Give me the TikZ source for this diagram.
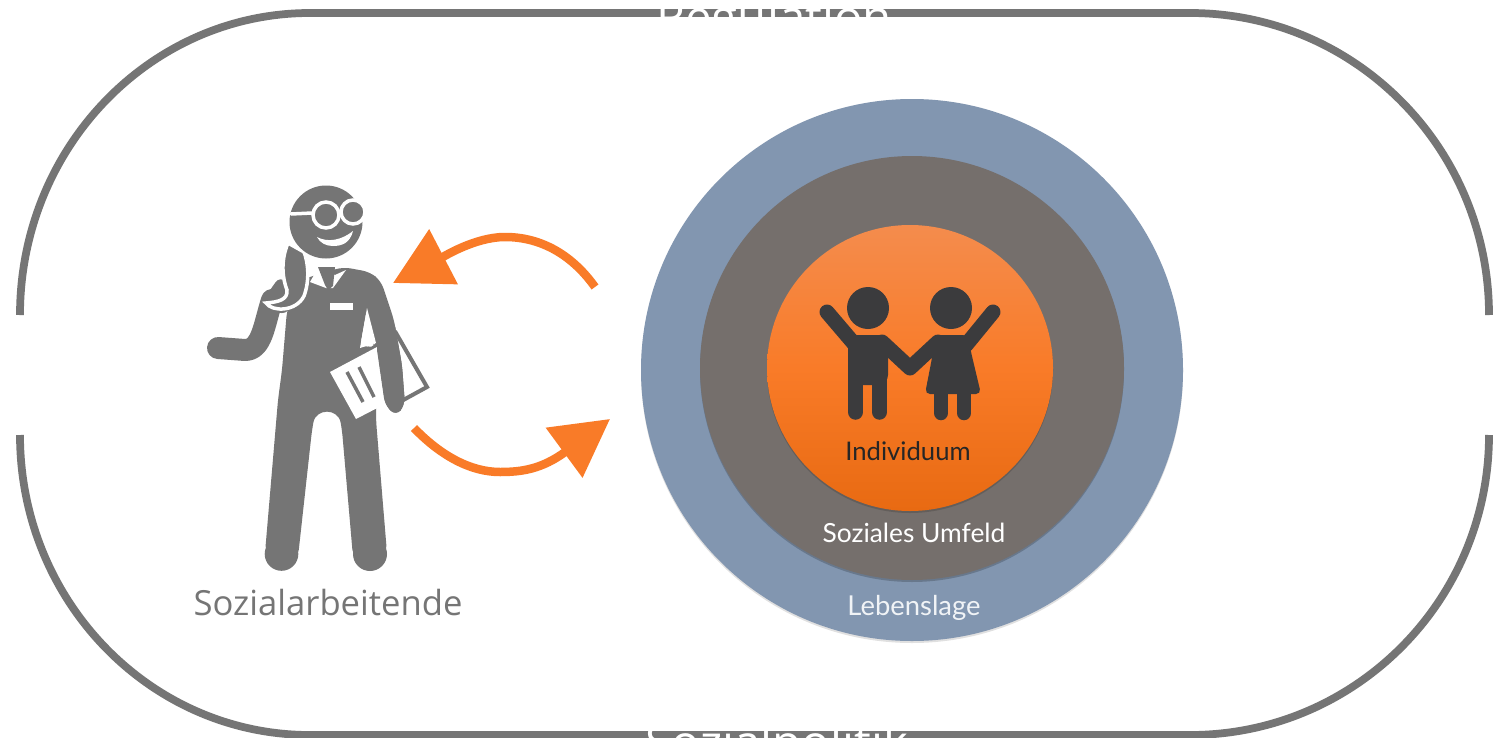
\documentclass[tikz,border=0pt]{standalone}
\usepackage{fontspec}
\setmainfont{Lato}
\newfontfamily\labelfont{Open Sans}
\usetikzlibrary{arrows.meta}
\definecolor{figgray}{HTML}{757575}
\definecolor{flowor}{HTML}{F97B28}
\definecolor{lageblue}{HTML}{8296B0}
\definecolor{umfeldgray}{HTML}{756F6C}
\definecolor{kinddark}{HTML}{3B3B3D}
\definecolor{kerntop}{HTML}{F48C4D}
\definecolor{kernlow}{HTML}{E86A12}
\tikzset{
	flowarrow/.style={line width=1.7mm, color=flowor, -{Triangle[length=1.14cm,width=1.2cm]}},
	ringlabel/.style={font=\fontsize{14.6}{17}\selectfont},
	framelabel/.style={color=white, font=\labelfont\fontsize{27}{32}\selectfont},
}

\begin{document}
\begin{tikzpicture}[x=0.02cm, y=-0.02cm]
			%%%%% START %%%%%
			\useasboundingbox (0, 0) rectangle (1494, 737);
			\fill[white] (0, 0) rectangle (1494, 737);
			
			% frame
			\draw[line width=1.55mm, color=figgray] (20, 315) arc (180:270:290 and 302) -- (1190, 13) arc (270:360:299 and 302);
			\draw[line width=1.55mm, color=figgray] (20, 435) arc (180:90:290 and 300) -- (1190, 735) arc (90:0:299 and 300);
			\node[framelabel, anchor=base] (regulation) at (774, 34) {Regulation};
			\node[framelabel, anchor=base] (sozialpolitik) at (777, 759) {Sozialpolitik};
			
			% rings
			\fill[black, opacity=0.12] (912, 372) circle (271);
			\fill[lageblue] (912, 370) circle (271);
			\fill[black, opacity=0.2] (912, 370) circle (212);
			\fill[umfeldgray] (912, 368) circle (212);
			\fill[black, opacity=0.15] (910, 370) circle (143);
			\shade[top color=kerntop, bottom color=kernlow, middle color=flowor] (910, 368) circle (143);
			
			% children
			\fill[kinddark] (868, 308) circle (21);
			\fill[kinddark] (951, 308) circle (21);
			\draw[line width=3mm, color=kinddark, line cap=round, line join=round] (827, 312) -- (856, 346);
			\draw[line width=3mm, color=kinddark, line cap=round, line join=round] (993, 312) -- (966, 345);
			\draw[line width=3mm, color=kinddark, line cap=round, line join=round] (882, 342) -- (910, 368) -- (938, 342);
			\fill[kinddark, rounded corners=2mm] (848, 385) -- (848, 335) -- (888, 335) -- (888, 385) -- cycle;
			\draw[line width=3.1mm, color=kinddark, line cap=round] (855.5, 370) -- (855.5, 412);
			\draw[line width=3.1mm, color=kinddark, line cap=round] (879.5, 370) -- (879.5, 412);
			\fill[kinddark, rounded corners=1mm] (932, 358) -- (934, 335) -- (968, 335) -- (971, 352) -- (981, 394) -- (925, 394) -- cycle;
			\draw[line width=2.9mm, color=kinddark, line cap=round] (941, 390) -- (941, 413);
			\draw[line width=2.9mm, color=kinddark, line cap=round] (964, 390) -- (964, 413);
			
			% clipboard behind the arm
			\draw[line width=0.8mm, color=figgray, fill=white] (396, 333) -- (427, 387) -- (396, 404) -- (370, 350) -- cycle;
			
			% person
			\fill[figgray, rounded corners=1.5mm] (343, 267) -- (370, 272) -- (381, 281) -- (394, 320) -- (402, 365) -- (405, 405) -- (396, 416) -- (385, 405) -- (376, 346) -- (374, 344) -- (367, 308) -- (360, 347) -- (376, 346) -- (376, 420) -- (387, 553) -- (353, 557) -- (342, 430) .. controls (338, 408) and (316, 408) .. (312, 430) -- (298, 557) -- (265, 553) -- (278, 400) -- (282, 370) -- (287, 310) -- (300, 280) -- cycle;
			\fill[figgray] (281.5, 554) circle (16.8);
			\fill[figgray] (370, 554) circle (17);
			\fill[white] (367, 308) -- (376, 343) -- (360, 348) -- cycle;
			\draw[line width=4.4mm, color=figgray, line cap=round, line join=round] (218, 348) -- (245, 350) .. controls (262, 350) and (264, 325) .. (272, 300);
			\fill[figgray, rounded corners=1.5mm] (263, 300) -- (280, 276) -- (292, 288) -- (292, 310) -- (278, 315) -- cycle;
			
			% hair, collar
			\draw[line width=0.7mm, color=white, fill=figgray] (288, 243) .. controls (280, 262) and (283, 280) .. (287, 290) .. controls (288, 300) and (278, 302) .. (266, 303) .. controls (272, 312) and (296, 312) .. (304, 296) .. controls (310, 280) and (308, 262) .. (304, 252) -- cycle;
			\fill[white] (318, 268) -- (310, 282) -- (326, 288) -- (333, 288) -- (346, 270) -- (335, 275) -- cycle;
			\fill[figgray] (318, 267) -- (335, 267) -- (333, 286) -- (328, 290) -- (325, 285) -- cycle;
			\fill[white] (330, 303) rectangle (353, 310);
			
			% head
			\fill[figgray] (326, 222) circle (36.5);
			\draw[line width=0.7mm, color=white, line cap=round] (291, 214) -- (312, 213);
			\draw[line width=0.7mm, color=white, fill=figgray] (353, 212) circle (12);
			\draw[line width=0.7mm, color=white, fill=figgray] (326, 215) circle (13);
			\fill[white] (317, 237) .. controls (328, 243) and (342, 240) .. (353, 231) .. controls (350, 243) and (342, 246) .. (333, 246) .. controls (326, 246) and (320, 243) .. (317, 237) -- cycle;
			
			% paper in front
			\fill[white] (330, 372) -- (377, 347) -- (385, 404) -- (356, 419) -- cycle;
			\draw[line width=0.7mm, color=figgray] (347, 372) -- (363, 402);
			\draw[line width=0.7mm, color=figgray] (359, 367) -- (374, 397);
			\fill[figgray, rounded corners=1.5mm] (376, 343) -- (394, 320) -- (402, 365) -- (405, 405) -- (396, 416) -- (385, 405) -- cycle;
			
			% arrows
			\coordinate (ringtop) at (595, 287);
			\coordinate (arctop) at (505, 237);
			\coordinate (persontop) at (393, 283);
			\coordinate (personlow) at (414, 428);
			\coordinate (arclow) at (500, 472);
			\coordinate (ringlow) at (610, 419);
			\draw[flowarrow] (ringtop) .. controls (570, 252) and (538, 237) .. (arctop) .. controls (475, 237) and (443, 257) .. (persontop);
			\draw[flowarrow] (personlow) .. controls (440, 455) and (470, 472) .. (arclow) .. controls (522, 472) and (542, 469) .. (ringlow);
			
			% labels
			\node[color=figgray, font=\labelfont\fontsize{19.7}{24}\selectfont] (sozialarbeitende) at (328, 603) {Sozialarbeitende};
			\node[ringlabel, color=black!85] (individuum) at (908, 451) {Individuum};
			\node[ringlabel, color=white, font=\fontsize{15}{17}\selectfont] (umfeld) at (914, 533) {Soziales Umfeld};
			\node[ringlabel, color=white!88!lageblue, font=\fontsize{15.6}{17}\selectfont] (lebenslage) at (914, 608) {Lebenslage};
			%%%%% END %%%%%
		\end{tikzpicture}
\end{document}
